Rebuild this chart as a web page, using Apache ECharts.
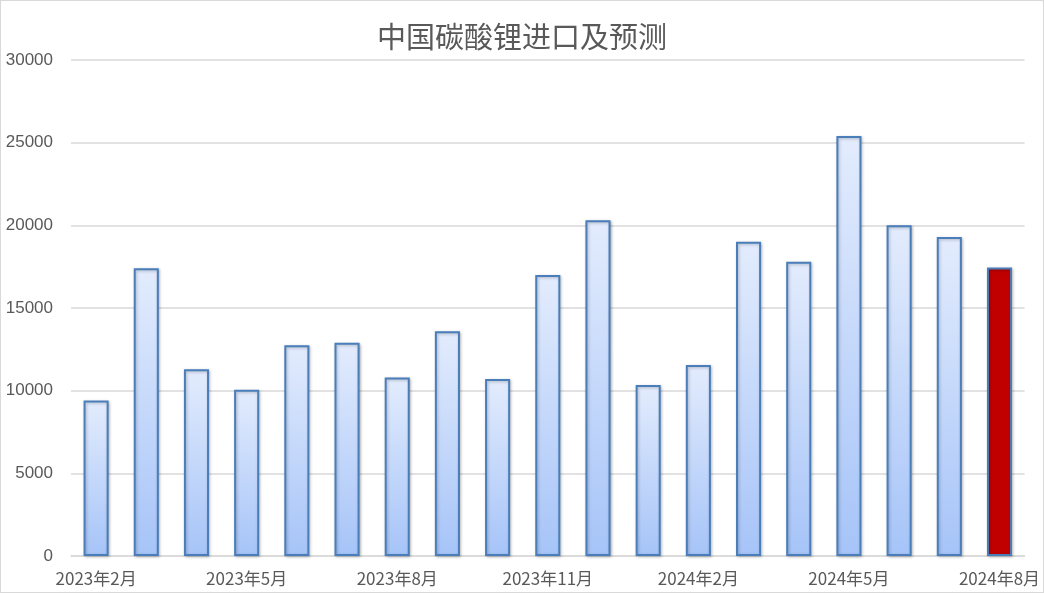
<!DOCTYPE html>
<html><head><meta charset="utf-8">
<script src="https://cdn.jsdelivr.net/npm/echarts@6/dist/echarts.min.js"></script>
<style>html,body{margin:0;padding:0;background:#fff}#c{width:1044px;height:593px;box-sizing:border-box;border:1px solid #d9d9d9}</style>
</head><body><div id="c"></div>
<script>
const categories = ['2023年2月','2023年3月','2023年4月','2023年5月','2023年6月','2023年7月','2023年8月','2023年9月','2023年10月','2023年11月','2023年12月','2024年1月','2024年2月','2024年3月','2024年4月','2024年5月','2024年6月','2024年7月','2024年8月'];
const imports = [9400,17400,11300,10050,12750,12900,10800,13600,10700,17000,20300,10350,11550,19000,17800,25400,20000,19300,17450];
const forecastIndex = 18;
const yTicks = {min:0, max:30000, interval:5000};

const blueGrad = new echarts.graphic.LinearGradient(0,0,0,1,[{offset:0,color:'#E3ECFD'},{offset:1,color:'#A6C4F8'}]);
const data = imports.map((v,i)=> i===forecastIndex ? {value:v,itemStyle:{color:'#C00000'}} : v);
const chart = echarts.init(document.getElementById('c'));
chart.setOption({
  animation:false,
  title:{text:'中国碳酸锂进口及预测',left:'center',top:16,textStyle:{fontFamily:'Noto Sans CJK SC',fontSize:29,fontWeight:'normal',color:'#595959'}},
  grid:{left:70,right:15,top:59,bottom:36},
  xAxis:{type:'category',data:categories,
    axisLine:{lineStyle:{color:'#D9D9D9',width:1.5}},axisTick:{show:false},
    axisLabel:{interval:2,color:'#595959',fontSize:17,fontFamily:'Noto Sans CJK SC',margin:14}},
  yAxis:{type:'value',min:yTicks.min,max:yTicks.max,interval:yTicks.interval,
    splitLine:{lineStyle:{color:'#D9D9D9',width:1.5}},axisLine:{show:false},axisTick:{show:false},
    axisLabel:{color:'#595959',fontSize:17,fontFamily:'Liberation Sans',margin:18,formatter:v=>String(v)}},
  series:[{type:'bar',data:data,barWidth:'50%',
    itemStyle:{color:blueGrad,borderColor:'#4A7EBB',borderWidth:2,shadowColor:'rgba(0,0,0,0.25)',shadowBlur:3,shadowOffsetX:1,shadowOffsetY:1}}]
});
</script></body></html>
